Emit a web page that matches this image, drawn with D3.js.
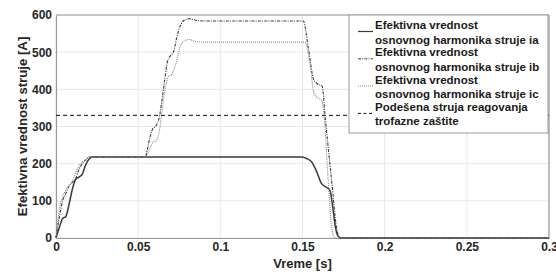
<!DOCTYPE html>
<html>
<head>
<meta charset="utf-8">
<script src="https://cdn.jsdelivr.net/npm/d3@7"></script>
<style>
  body { margin: 0; background: #fff; }
  text { font-family: Arial, "Liberation Sans", sans-serif; font-weight: bold; }
</style>
</head>
<body>
<svg id="chart"></svg>
<script>
// time [s] and RMS value [A] of the fundamental harmonic
const timeA = [0, 0.002, 0.004, 0.006, 0.008, 0.010, 0.012, 0.014, 0.016, 0.018, 0.020, 0.022,
  0.1495, 0.1525, 0.1555, 0.1585, 0.1615, 0.1640, 0.1667, 0.1685, 0.1700, 0.1718, 0.1735, 0.3];
const ia = [0, 28, 52, 58, 92, 132, 158, 164, 172, 196, 212, 218,
  218, 214, 205, 180, 147, 138, 128, 80, 30, 4, 0, 0];

const timeB = [0, 0.002, 0.004, 0.006, 0.008, 0.010, 0.012, 0.014, 0.016, 0.018, 0.0205,
  0.0542, 0.057, 0.059, 0.0605, 0.0625, 0.066, 0.068, 0.070, 0.0715, 0.0735, 0.076, 0.079, 0.081, 0.085, 0.090,
  0.1505, 0.1536, 0.1566, 0.1590, 0.1620, 0.1637, 0.1678, 0.1708, 0.1728, 0.3];
const ib = [0, 55, 100, 120, 140, 150, 160, 185, 200, 210, 218,
  218, 268, 295, 300, 318, 420, 478, 492, 500, 540, 575, 588, 590, 586, 584,
  584, 510, 429, 415, 408, 330, 151, 26, 0, 0];

const timeC = [0, 0.002, 0.004, 0.006, 0.008, 0.010, 0.012, 0.014, 0.016, 0.018, 0.020,
  0.0542, 0.057, 0.059, 0.061, 0.0625, 0.066, 0.0685, 0.0705, 0.073, 0.076, 0.079, 0.081, 0.086, 0.090,
  0.1515, 0.1546, 0.1570, 0.1590, 0.1617, 0.1631, 0.1657, 0.1678, 0.1698, 0.3];
const ic = [0, 75, 110, 128, 140, 155, 176, 195, 205, 209, 218,
  218, 240, 257, 262, 280, 390, 435, 441, 470, 520, 532, 534, 528, 527,
  527, 465, 389, 378, 370, 330, 151, 26, 0, 0];

const threshold = 330;

const xTicks = [0, 0.05, 0.1, 0.15, 0.2, 0.25, 0.3];
const xTickLabels = ["0", "0.05", "0.1", "0.15", "0.2", "0.25", "0.3"];
const yTicks = [0, 100, 200, 300, 400, 500, 600];

const legendLabels = [
  ["Efektivna vrednost", "osnovnog harmonika struje ia"],
  ["Efektivna vrednost", "osnovnog harmonika struje ib"],
  ["Efektivna vrednost", "osnovnog harmonika struje ic"],
  ["Podešena struja reagovanja", " trofazne zaštite"]
];

const width = 556, height = 276;
const margin = { left: 56, right: 7, top: 15, bottom: 38 };

const svg = d3.select("#chart").attr("width", width).attr("height", height);

const x = d3.scaleLinear().domain([0, 0.3]).range([margin.left, width - margin.right]);
const y = d3.scaleLinear().domain([0, 600]).range([height - margin.bottom, margin.top]);

// grid
svg.append("g").selectAll("line.gx").data(xTicks).join("line")
  .attr("x1", d => x(d)).attr("x2", d => x(d))
  .attr("y1", y(0)).attr("y2", y(600))
  .attr("stroke", "#e8e8e8").attr("stroke-width", 1);
svg.append("g").selectAll("line.gy").data(yTicks).join("line")
  .attr("y1", d => y(d)).attr("y2", d => y(d))
  .attr("x1", x(0)).attr("x2", x(0.3))
  .attr("stroke", "#e8e8e8").attr("stroke-width", 1);

// axes
const xAxis = svg.append("g")
  .attr("transform", `translate(0,${y(0)})`)
  .call(d3.axisBottom(x).tickValues(xTicks).tickFormat((d, i) => xTickLabels[i]).tickSize(0).tickPadding(4));
const yAxis = svg.append("g")
  .attr("transform", `translate(${x(0)},0)`)
  .call(d3.axisLeft(y).tickValues(yTicks).tickSize(0).tickPadding(4));
[xAxis, yAxis].forEach(a => {
  a.select(".domain").attr("stroke", "#9a9a9a").attr("stroke-width", 1.2);
  a.selectAll("text").attr("font-size", 12).attr("fill", "#262626")
    .attr("font-family", "Arial, 'Liberation Sans', sans-serif").attr("font-weight", "bold");
});

// box top/right
svg.append("line").attr("x1", x(0)).attr("x2", x(0.3)).attr("y1", y(600)).attr("y2", y(600))
  .attr("stroke", "#9a9a9a").attr("stroke-width", 1.2);
svg.append("line").attr("x1", x(0.3)).attr("x2", x(0.3)).attr("y1", y(0)).attr("y2", y(600))
  .attr("stroke", "#9a9a9a").attr("stroke-width", 1.2);

// series
const line = d3.line().x(d => x(d[0])).y(d => y(d[1])).curve(d3.curveMonotoneX);
const series = [
  { t: timeA, v: ia, color: "#3a3a3a", dash: null, w: 1.5 },
  { t: timeB, v: ib, color: "#3a3a3a", dash: "3,1.2,1,1.2", w: 1.1 },
  { t: timeC, v: ic, color: "#8a8a8a", dash: "1,1", w: 1.1 }
];
series.forEach(s => {
  svg.append("path")
    .attr("d", line(s.t.map((d, i) => [d, s.v[i]])))
    .attr("fill", "none")
    .attr("stroke", s.color)
    .attr("stroke-width", s.w)
    .attr("stroke-dasharray", s.dash);
});

svg.append("line")
  .attr("x1", x(0)).attr("x2", x(0.3))
  .attr("y1", y(threshold)).attr("y2", y(threshold))
  .attr("stroke", "#111").attr("stroke-width", 1)
  .attr("stroke-dasharray", "4,3");

// legend
const lg = svg.append("g");
lg.append("rect").attr("x", 349).attr("y", 15).attr("width", 199).attr("height", 118)
  .attr("fill", "#fff").attr("stroke", "#9a9a9a").attr("stroke-width", 1);
const sampleStyles = [
  { color: "#3a3a3a", dash: null, w: 1.2 },
  { color: "#3a3a3a", dash: "3,1.2,1,1.2", w: 1 },
  { color: "#8a8a8a", dash: "1,1", w: 1 },
  { color: "#111", dash: "3,2.5", w: 1 }
];
legendLabels.forEach((lab, i) => {
  const y0 = 25 + i * 27.3;
  lab.forEach((t, j) => {
    lg.append("text").attr("x", 375).attr("y", y0 + j * 14.5)
      .attr("dy", "0.35em").attr("font-size", 11.5).attr("fill", "#1a1a1a")
      .text(t);
  });
  lg.append("line").attr("x1", 358).attr("x2", 373)
    .attr("y1", y0 + 6.5).attr("y2", y0 + 6.5)
    .attr("stroke", sampleStyles[i].color).attr("stroke-width", sampleStyles[i].w)
    .attr("stroke-dasharray", sampleStyles[i].dash);
});

// axis titles
svg.append("text")
  .attr("transform", `translate(22,${(y(0) + y(600)) / 2}) rotate(-90)`)
  .attr("text-anchor", "middle").attr("dy", "0.35em")
  .attr("font-size", 13.2).attr("fill", "#262626")
  .text("Efektivna vrednost struje [A]");
svg.append("text")
  .attr("x", (x(0) + x(0.3)) / 2).attr("y", 268)
  .attr("text-anchor", "middle")
  .attr("font-size", 13).attr("fill", "#262626")
  .text("Vreme [s]");
</script>
</body>
</html>
